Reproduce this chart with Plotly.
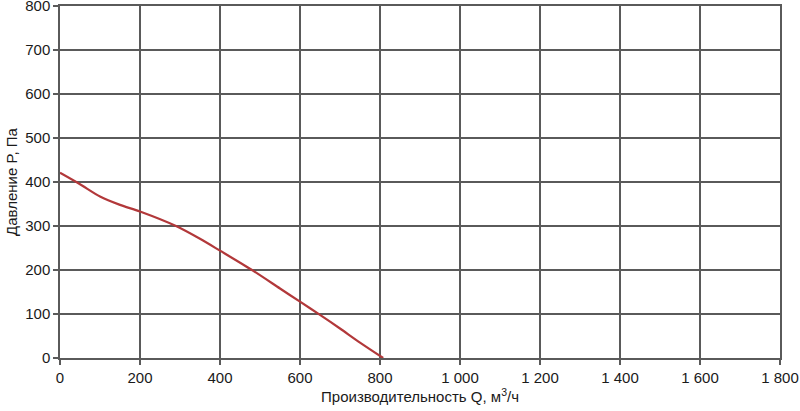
import plotly.graph_objects as go

q_values = [0, 50, 100, 150, 200, 290, 350, 400, 480, 550, 600, 650, 700, 750, 808]
p_values = [421, 395, 367, 348, 333, 300, 271, 244, 200, 158, 128, 98, 67, 35, 0]

x_ticks = [0, 200, 400, 600, 800, 1000, 1200, 1400, 1600, 1800]
x_tick_labels = ["0", "200", "400", "600", "800", "1 000", "1 200", "1 400", "1 600", "1 800"]
y_ticks = [0, 100, 200, 300, 400, 500, 600, 700, 800]
y_tick_labels = ["0", "100", "200", "300", "400", "500", "600", "700", "800"]

fig = go.Figure()
fig.add_trace(go.Scatter(
    x=q_values, y=p_values, mode="lines",
    line=dict(color="#b2383a", width=2.2, shape="spline", smoothing=0.8),
    showlegend=False, hoverinfo="skip", cliponaxis=False,
))

grid = "#5a5a5a"
tickfont = dict(family="Liberation Sans, Arial, sans-serif", size=15, color="#1a1a1a")
titlefont = dict(family="Liberation Sans, Arial, sans-serif", size=15, color="#1a1a1a")

fig.update_layout(
    width=800, height=411,
    margin=dict(l=60, r=20, t=6, b=53),
    paper_bgcolor="white", plot_bgcolor="white",
    font=titlefont,
)
fig.update_xaxes(
    range=[0, 1800], tickvals=x_ticks, ticktext=x_tick_labels,
    showgrid=True, gridcolor=grid, gridwidth=1.5,
    showline=True, linecolor=grid, linewidth=1.5, mirror=True,
    ticks="outside", ticklen=5, tickcolor=grid, tickwidth=1.5,
    zeroline=False, automargin=False, tickfont=tickfont,
    ticklabeloverflow="allow",
    title=dict(text="Производительность Q, м<sup>3</sup>/ч", standoff=6, font=titlefont),
)
fig.update_yaxes(
    range=[0, 800], tickvals=y_ticks, ticktext=y_tick_labels,
    showgrid=True, gridcolor=grid, gridwidth=1.5,
    showline=True, linecolor=grid, linewidth=1.5, mirror=True,
    ticks="outside", ticklen=5, tickcolor=grid, tickwidth=1.5,
    zeroline=False, automargin=False, tickfont=tickfont,
    ticklabeloverflow="allow",
    title=dict(text="Давление P, Па", standoff=4, font=titlefont),
)

fig.write_html(
    "out.html",
    config={"displayModeBar": False},
    post_script="document.body.style.margin='0';document.body.style.padding='0';",
)
